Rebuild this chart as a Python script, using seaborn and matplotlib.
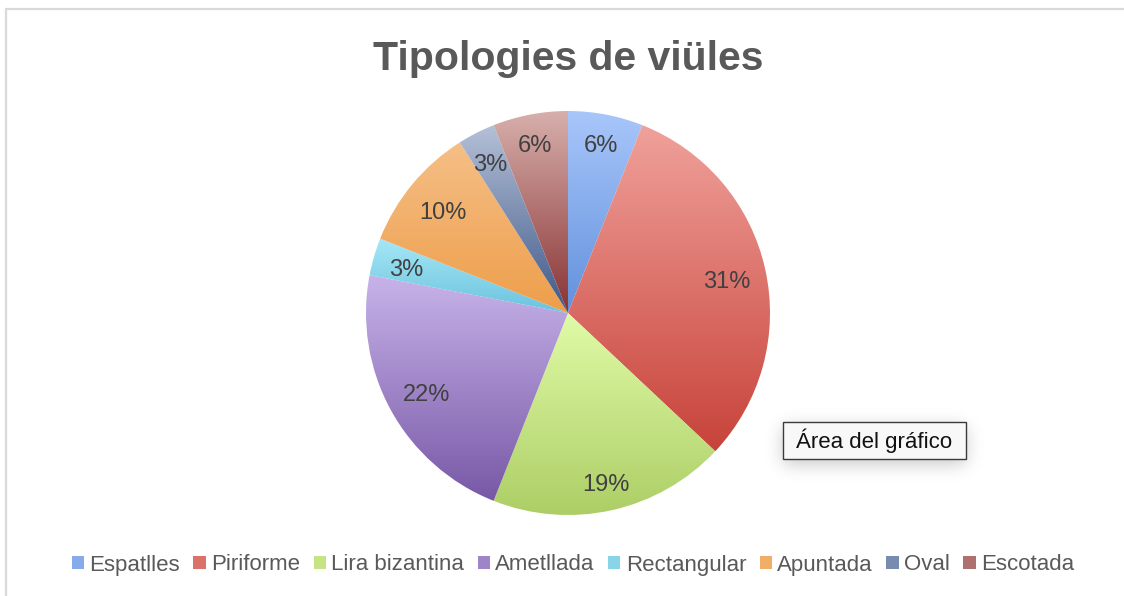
import numpy as np
import matplotlib
matplotlib.use("Agg")
import matplotlib.pyplot as plt
from matplotlib.patches import Patch, Rectangle
from matplotlib.lines import Line2D
import seaborn as sns

# Violin body types and their share (%)
categories = ["Espatlles", "Piriforme", "Lira bizantina", "Ametllada",
              "Rectangular", "Apuntada", "Oval", "Escotada"]
values = [6, 31, 19, 22, 3, 10, 3, 6]
title = "Tipologies de viüles"
tooltip = "Área del gráfico"

# light (top) / dark (bottom) colour of each slice's vertical gradient
grad_top = ["#A8C6FA", "#F0A19B", "#E0FBA7", "#C7B3E9",
            "#A6E7F7", "#F5BF87", "#B4C0D7", "#D7AFAC"]
grad_bottom = ["#6291DC", "#C7433A", "#ADCE66", "#7858A6",
               "#6BC3DD", "#EE9E4A", "#3F5888", "#883333"]

sns.set_theme(style="white")
plt.rcParams["font.family"] = ["Liberation Sans", "DejaVu Sans"]

W, H = 1124, 596
fig = plt.figure(figsize=(W / 100, H / 100), dpi=100)
fig.patch.set_facecolor("white")

# pie axes: square box centred on the chart area
cx, cy, R = 568, 313, 202
ax = fig.add_axes([(cx - R) / W, 1 - (cy + R) / H, 2 * R / W, 2 * R / H])
ax.set_facecolor("none")

wedges, _, autotexts = ax.pie(
    values, startangle=90, counterclock=False, radius=1,
    autopct=lambda p: f"{p:.0f}%", pctdistance=0.82,
    wedgeprops=dict(linewidth=0),
    textprops=dict(fontsize=17, color="#404040"),
)
ax.set_xlim(-1, 1)
ax.set_ylim(-1, 1)
ax.set_aspect("equal")
ax.axis("off")

# fill every wedge with a vertical gradient spanning its own extent
for w, top, bot in zip(wedges, grad_top, grad_bottom):
    ext = w.get_path().get_extents()
    cols = np.array(sns.blend_palette([top, bot], n_colors=256))
    img = np.ones((256, 1, 4))
    img[:, 0, :3] = cols
    w.set_facecolor("none")
    im = ax.imshow(img, extent=[ext.x0, ext.x1, ext.y0, ext.y1],
                   origin="upper", aspect="auto", zorder=1,
                   interpolation="bilinear")
    im.set_clip_path(w)
ax.set_xlim(-1, 1)
ax.set_ylim(-1, 1)

# push each percentage label out towards the rim, keeping it inside
fig.canvas.draw()
rend = fig.canvas.get_renderer()
inv = ax.transData.inverted()
for w, t in zip(wedges, autotexts):
    t.set_zorder(3)
    ang = np.deg2rad((w.theta1 + w.theta2) / 2)
    bb = t.get_window_extent(rend).transformed(inv)
    hw, hh = bb.width / 2, bb.height / 2
    r = 0.93 - (hw * abs(np.cos(ang)) + hh * abs(np.sin(ang)))
    t.set_position((r * np.cos(ang), r * np.sin(ang) - 0.02))

# chart title
fig.text(cx / W, 1 - 70 / H, title, ha="center", va="baseline",
         fontsize=29.5, fontweight="bold", color="#595959")

# legend along the bottom
handles = [Patch(facecolor=sns.blend_palette([t, b], 3)[1], edgecolor="none")
           for t, b in zip(grad_top, grad_bottom)]
fig.legend(handles, categories, loc="center", bbox_to_anchor=(573 / W, 1 - 565 / H),
           ncol=len(categories), frameon=False, fontsize=16,
           handlelength=0.55, handleheight=0.55, handletextpad=0.25,
           columnspacing=0.6, labelcolor="#595959")

# chart-area frame (top and left edges)
frame_kw = dict(transform=fig.transFigure, color="#D9D9D9", lw=1.6)
fig.add_artist(Line2D([6.5 / W, 6.5 / W], [0, 1 - 9 / H], **frame_kw))
fig.add_artist(Line2D([6.5 / W, 1], [1 - 9 / H, 1 - 9 / H], **frame_kw))

# hover tooltip with a soft drop shadow
bx0, by0, bw, bh = 783, 422, 183, 37
pad = 40
sh = np.zeros((bh + 2 * pad, bw + 2 * pad))
sh[pad + 5:pad + 5 + bh, pad:pad + bw] = 1.0
k = np.exp(-0.5 * (np.arange(-30, 31) / 9.0) ** 2)
k /= k.sum()
sh = np.apply_along_axis(lambda v: np.convolve(v, k, mode="same"), 0, sh)
sh = np.apply_along_axis(lambda v: np.convolve(v, k, mode="same"), 1, sh)
shadow = np.zeros(sh.shape + (4,))
shadow[..., 3] = sh * 0.22
fig.figimage(shadow, xo=bx0 - pad, yo=H - (by0 + bh + pad), origin="upper", zorder=2)
fig.add_artist(Rectangle((bx0 / W, 1 - (by0 + bh) / H), bw / W, bh / H,
                         transform=fig.transFigure, facecolor="#F8F8F8",
                         edgecolor="#3A3A3A", lw=1.0, zorder=3))
fig.text((bx0 + bw / 2) / W, 1 - (by0 + bh / 2) / H, tooltip, ha="center",
         va="center", fontsize=16, color="#111111", zorder=4)

fig.savefig("out.png", dpi=100, facecolor="white")
